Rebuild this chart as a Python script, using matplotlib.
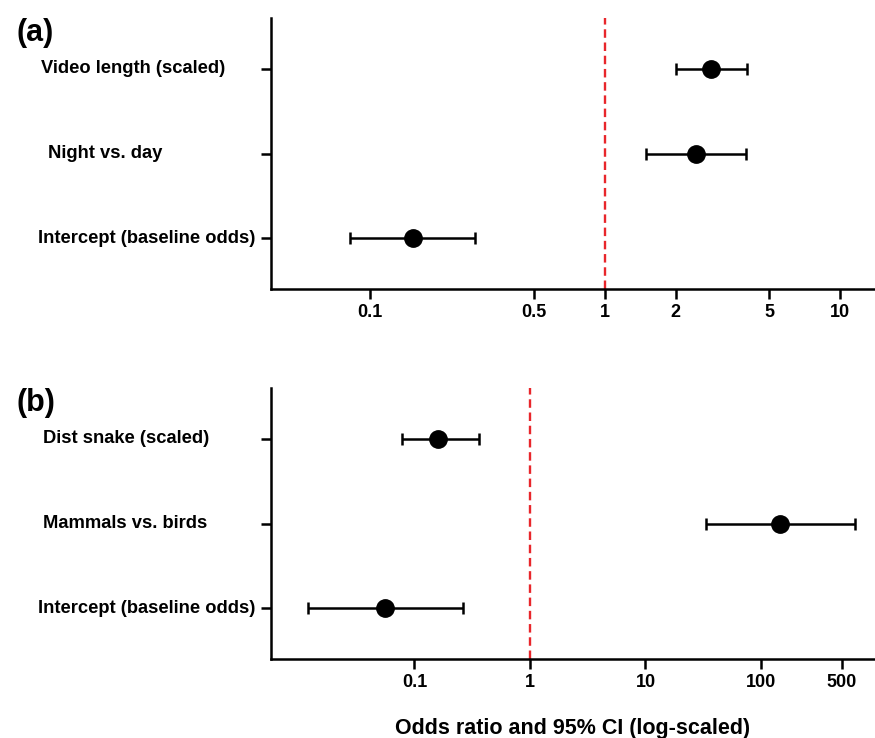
import numpy as np
import matplotlib
matplotlib.use("Agg")
import matplotlib.pyplot as plt
from matplotlib.transforms import blended_transform_factory
from matplotlib.ticker import FixedLocator, NullLocator

plt.rcParams['font.family'] = ['Liberation Sans', 'DejaVu Sans']
plt.rcParams['font.weight'] = 'bold'

# Panel (a): odds ratios and 95% CI (top row first)
a_terms = ["Video length (scaled)", "Night vs. day", "Intercept (baseline odds)"]
a_or    = [2.82, 2.44, 0.152]
a_lo    = [2.00, 1.49, 0.082]
a_hi    = [4.02, 4.00, 0.28]
a_ticks = [0.1, 0.5, 1, 2, 5, 10]
a_ticklabels = ["0.1", "0.5", "1", "2", "5", "10"]

# Panel (b)
b_terms = ["Dist snake (scaled)", "Mammals vs. birds", "Intercept (baseline odds)"]
b_or    = [0.159, 147, 0.0555]
b_lo    = [0.0775, 33.4, 0.0119]
b_hi    = [0.364, 655, 0.261]
b_ticks = [0.1, 1, 10, 100, 500]
b_ticklabels = ["0.1", "1", "10", "100", "500"]

W, H = 875, 738
fig = plt.figure(figsize=(W / 100, H / 100), dpi=100)

def forest(rect, terms, est, lo, hi, ticks, ticklabels, xlim, label_x, tag):
    ax = fig.add_axes(rect)
    est = np.array(est)
    ypos = np.arange(len(terms), 0, -1)
    err = [est - np.array(lo), np.array(hi) - est]
    ax.axvline(1, color='#e8262b', lw=1.7, linestyle=(0, (3.6, 2.0)), zorder=1)
    ax.errorbar(est, ypos, xerr=err, fmt='o', color='black', ms=12.5,
                elinewidth=1.8, capsize=4.6, capthick=1.8, zorder=3)
    ax.set_xscale('log')
    ax.set_xlim(*xlim)
    ax.set_ylim(0.4, 3.6)
    ax.xaxis.set_major_locator(FixedLocator(ticks))
    ax.xaxis.set_minor_locator(NullLocator())
    ax.set_xticklabels(ticklabels, fontsize=13, fontweight='bold')
    ax.set_yticks(ypos)
    ax.set_yticklabels([])
    for s in ['top', 'right']:
        ax.spines[s].set_visible(False)
    for s in ['left', 'bottom']:
        ax.spines[s].set_linewidth(1.8)
    ax.tick_params(width=1.8, length=7, pad=4)
    tr = blended_transform_factory(fig.transFigure, ax.transData)
    for t, y, x in zip(terms, ypos, label_x):
        ax.text(x / W, y, t, transform=tr, ha='left', va='center',
                fontsize=13.2, fontweight='bold')
    fig.text(17 / W, rect[1] + rect[3] - 15 / H, tag, fontsize=22,
             fontweight='bold', ha='left', va='center')
    return ax

left = 271 / W
width = 1 - left
ax_a = forest([left, 1 - 289 / H, width, (289 - 18) / H], a_terms, a_or, a_lo, a_hi,
              a_ticks, a_ticklabels, (0.0379, 14.1), [41, 48, 38], "(a)")
ax_b = forest([left, 1 - 659 / H, width, (659 - 388) / H], b_terms, b_or, b_lo, b_hi,
              b_ticks, b_ticklabels, (0.00573, 970), [43, 43, 38], "(b)")
ax_b.set_xlabel("Odds ratio and 95% CI (log-scaled)", fontsize=15.5,
                fontweight='bold', labelpad=19)

fig.savefig("out.png", dpi=100)
